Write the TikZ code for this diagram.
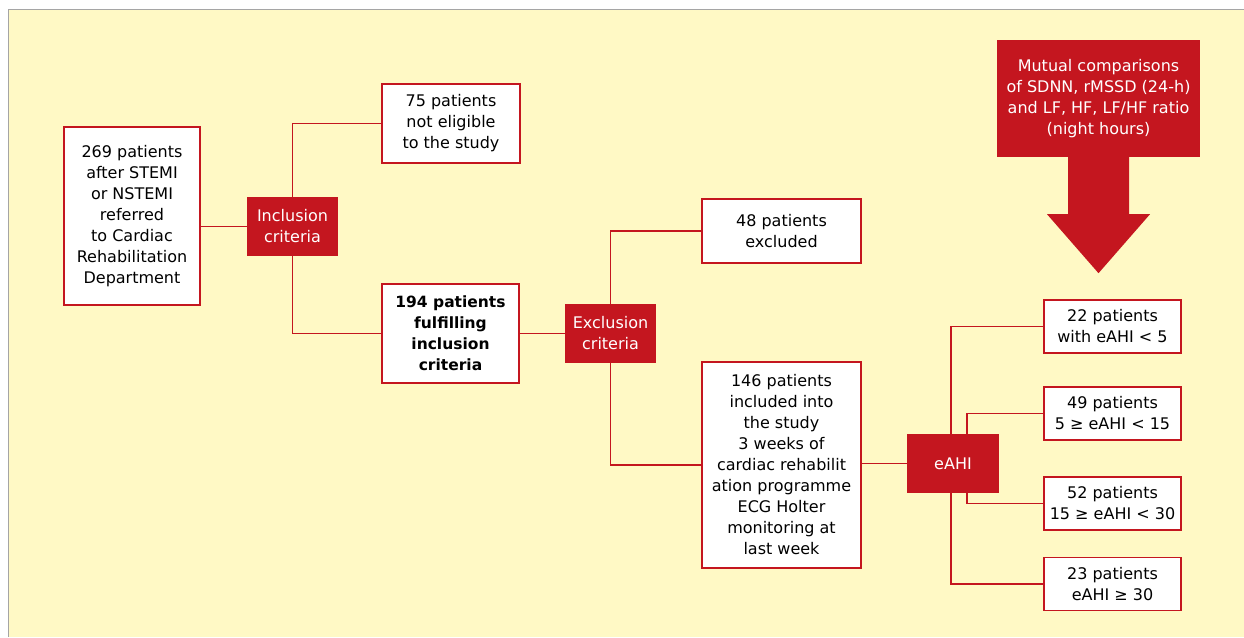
\documentclass[tikz,border=0pt]{standalone}
\usepackage{fontspec}
\setmainfont{DejaVu Sans}
\usetikzlibrary{calc}
\definecolor{crimson}{RGB}{196, 22, 31}
\definecolor{pale}{RGB}{255, 249, 197}
\definecolor{frame}{RGB}{165, 165, 165}

\begin{document}
\begin{tikzpicture}[x=1pt, y=-1pt,
  box/.style={draw=crimson, line width=1.3pt, fill=white, align=center,
    inner sep=0pt, font=\fontsize{16}{21}\selectfont},
  tag/.style={fill=crimson, text=white, align=center, inner sep=0pt,
    minimum width=91pt, minimum height=59pt, font=\fontsize{16}{21}\selectfont},
  group/.style={box, minimum width=137pt, minimum height=53pt},
  link/.style={draw=crimson, line width=1.1pt}]
  \useasboundingbox (0,0) rectangle (1244,637);

  % Panel
  \fill[white] (0,0) rectangle (1244,637);
  \fill[pale] (8,9) rectangle (1244,637);
  \draw[frame, line width=1pt] (8,637) -- (8,9) -- (1244,9);

  % Inclusion
  \node[box, minimum width=136pt, minimum height=178pt] (start) at (132,216)
    {269 patients\\after STEMI\\or NSTEMI\\referred\\to Cardiac\\Rehabilitation\\Department};
  \node[tag] (incl) at (292.5,226.5) {Inclusion\\criteria};
  \node[box, minimum width=138pt, minimum height=79pt] (noteli) at (451,123.5)
    {75 patients\\not eligible\\to the study};
  \node[box, minimum width=137pt, minimum height=99pt, font=\fontsize{15.5}{21}\selectfont\bfseries] (fulfil) at (450.5,333.5)
    {194 patients\\fulfilling\\inclusion\\criteria};

  \draw[link] (incl.west -| start.east) -- (incl.west);
  \draw[link] (incl.north) |- (noteli.west);
  \draw[link] (incl.south) |- (fulfil.west);

  % Exclusion
  \node[tag] (excl) at (610.5,333.5) {Exclusion\\criteria};
  \node[box, minimum width=159pt, minimum height=64pt] (excluded) at (781.5,231)
    {48 patients\\excluded};
  \node[box, minimum width=159pt, minimum height=206pt] (included) at (781.5,465)
    {146 patients\\included into\\the study\\3 weeks of\\cardiac rehabilit\\ation programme\\ECG Holter\\monitoring at\\last week};

  \draw[link] (fulfil) -- (excl);
  \draw[link] (excl.north) |- (excluded.west);
  \draw[link] (excl.south) |- (included.west);

  % eAHI groups
  \node[tag, minimum width=92pt] (eahi) at (953,463.5) {eAHI};
  \node[group] (grpA) at (1112.5,326.5) {22 patients\\with eAHI < 5};
  \node[group] (grpB) at (1112.5,413.5) {49 patients\\5 ≥ eAHI < 15};
  \node[group] (grpC) at (1112.5,503.5) {52 patients\\15 ≥ eAHI < 30};
  \node[group] (grpD) at (1112.5,584) {23 patients\\eAHI ≥ 30};

  \draw[link] (included.east |- eahi.west) -- (eahi.west);
  \draw[link] ([xshift=-2pt]eahi.north) |- (grpA.west);
  \draw[link] ([xshift=14pt]eahi.north) |- (grpB.west);
  \draw[link] ([xshift=14pt]eahi.south) |- (grpC.west);
  \draw[link] ([xshift=-2pt]eahi.south) |- (grpD.west);

  % Comparisons arrow
  \node[tag, minimum width=203pt, minimum height=117pt] (mutual) at (1098.5,98.5)
    {Mutual comparisons\\of SDNN, rMSSD (24-h)\\and LF, HF, LF/HF ratio\\(night hours)};
  \fill[crimson] ($(mutual.south)+(-30.5,-1)$) -- ($(mutual.south)+(-30.5,57)$)
    -- ($(mutual.south)+(-51.5,57)$) -- ($(mutual.south)+(0,116)$)
    -- ($(mutual.south)+(51.5,57)$) -- ($(mutual.south)+(30.5,57)$)
    -- ($(mutual.south)+(30.5,-1)$) -- cycle;
\end{tikzpicture}
\end{document}
